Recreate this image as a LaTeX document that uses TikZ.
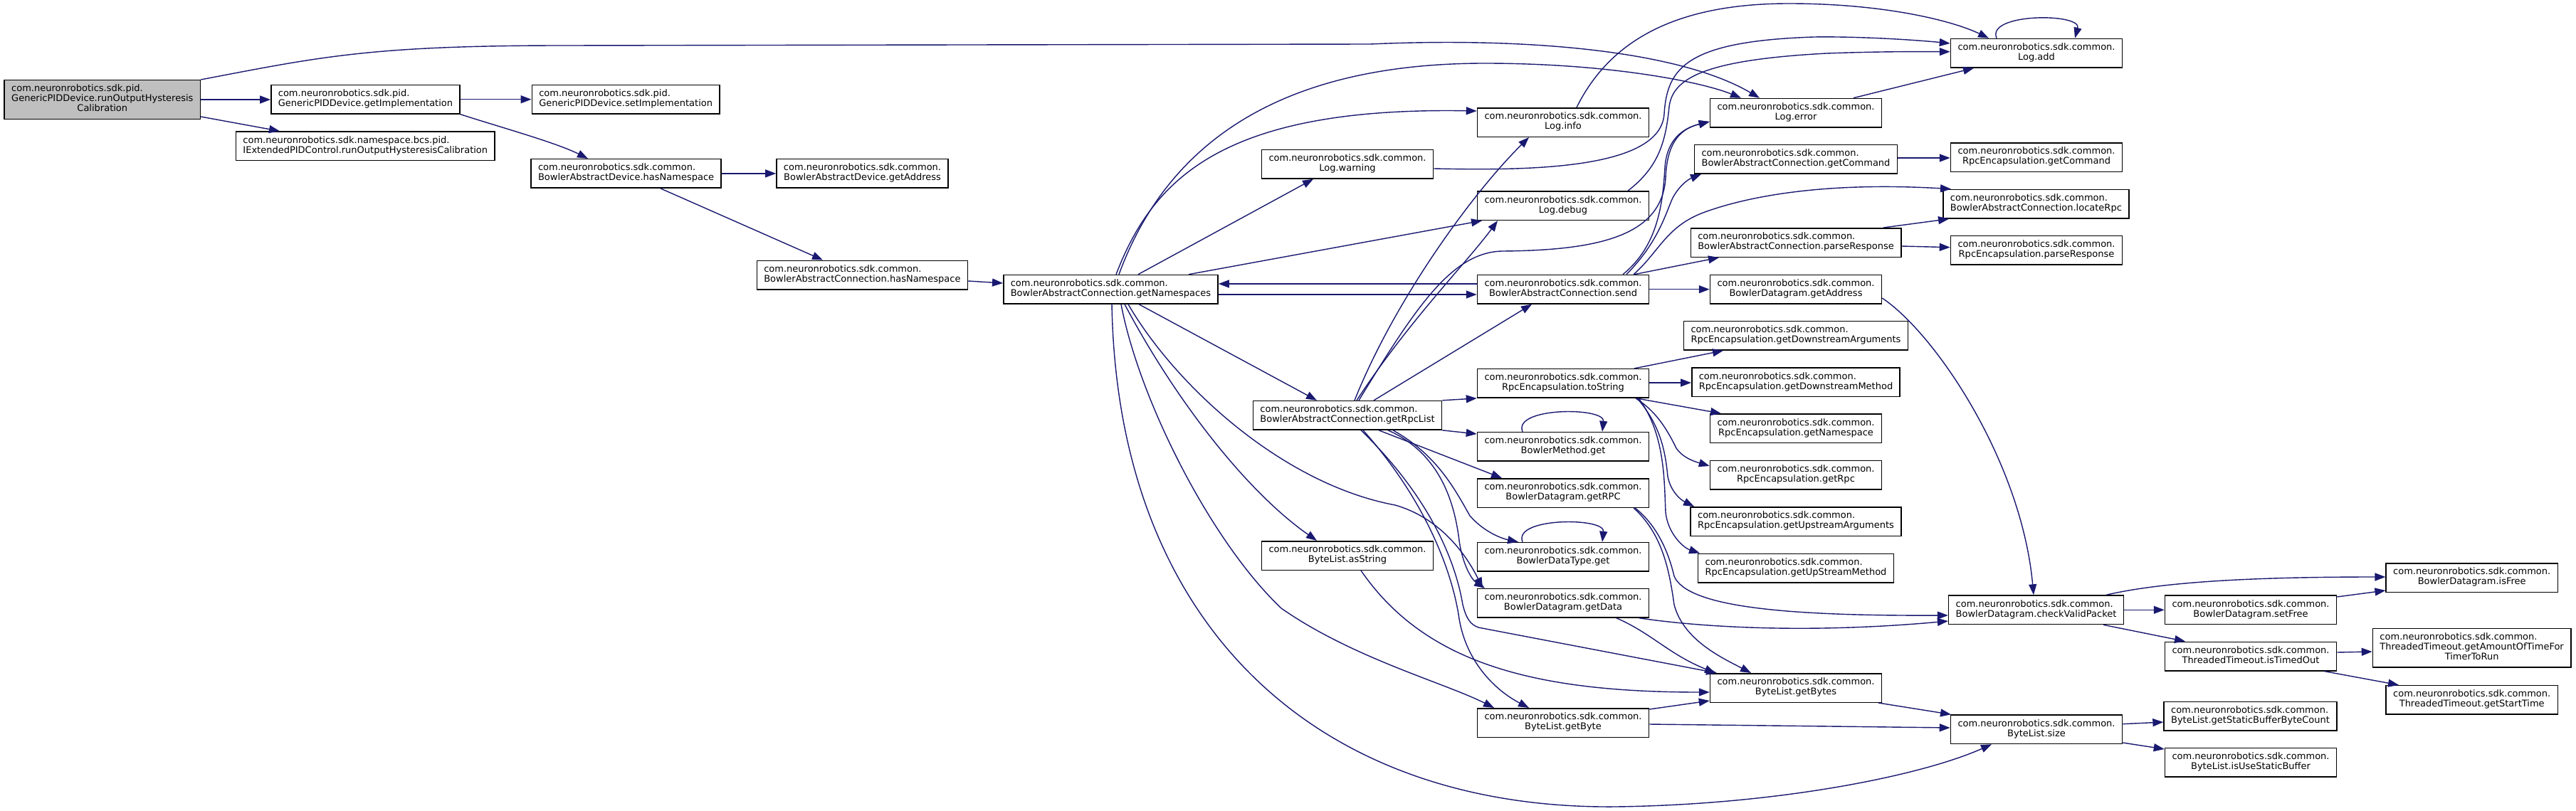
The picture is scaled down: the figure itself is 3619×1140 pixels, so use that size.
\documentclass[tikz,border=0pt]{standalone}
\usepackage{fontspec}
\setmainfont{DejaVu Sans}
\usetikzlibrary{arrows.meta,calc}
\definecolor{edgec}{RGB}{25,25,112}
\definecolor{mainfill}{RGB}{191,191,191}
\newcommand{\twoln}[2]{\begin{tabular}{@{}c@{}}\multicolumn{1}{@{}l@{}}{#1}\\#2\end{tabular}}
\newcommand{\threeln}[3]{\begin{tabular}{@{}c@{}}\multicolumn{1}{@{}l@{}}{#1}\\\multicolumn{1}{@{}l@{}}{#2}\\#3\end{tabular}}
\newcommand{\nrc}{com.neuronrobotics.sdk.common.}
\tikzset{
  fn/.style={draw=black, line width=1.5pt, fill=white, inner xsep=10pt, inner ysep=0pt,
    minimum height=40.5pt, font=\fontsize{13}{14}\selectfont, anchor=center},
  cg/.style={draw=edgec, line width=1.4pt, -{Triangle[length=15pt,width=11pt]}}
}
\begin{document}
\begin{tikzpicture}[x=1pt,y=-1pt]
\useasboundingbox (0,0) rectangle (3619,1140);
\fill[white] (0,0) rectangle (3619,1140);

% nodes
\node[fn, fill=mainfill, minimum height=54.6pt] (main) at (143.8,140) {\threeln{com.neuronrobotics.sdk.pid.}{GenericPIDDevice.runOutputHysteresis}{Calibration}};
\node[fn] (getImpl) at (513.5,139.7) {\twoln{com.neuronrobotics.sdk.pid.}{GenericPIDDevice.getImplementation}};
\node[fn] (IExt) at (513.3,205.3) {\twoln{com.neuronrobotics.sdk.namespace.bcs.pid.}{IExtendedPIDControl.runOutputHysteresisCalibration}};
\node[fn] (setImpl) at (879.2,139.7) {\twoln{com.neuronrobotics.sdk.pid.}{GenericPIDDevice.setImplementation}};
\node[fn] (BADhas) at (879.6,243.9) {\twoln{\nrc}{BowlerAbstractDevice.hasNamespace}};
\node[fn] (BADaddr) at (1211.5,243.9) {\twoln{\nrc}{BowlerAbstractDevice.getAddress}};
\node[fn] (BAChas) at (1211.4,386.5) {\twoln{\nrc}{BowlerAbstractConnection.hasNamespace}};
\node[fn] (getNS) at (1560.4,406.7) {\twoln{\nrc}{BowlerAbstractConnection.getNamespaces}};
\node[fn] (warn) at (1893,230.7) {\twoln{\nrc}{Log.warning}};
\node[fn] (rpcList) at (1893,583.8) {\twoln{\nrc}{BowlerAbstractConnection.getRpcList}};
\node[fn] (asStr) at (1893,781) {\twoln{\nrc}{ByteList.asString}};
\node[fn] (info) at (2196,172) {\twoln{\nrc}{Log.info}};
\node[fn] (debug) at (2196,289.2) {\twoln{\nrc}{Log.debug}};
\node[fn] (send) at (2196,406.7) {\twoln{\nrc}{BowlerAbstractConnection.send}};
\node[fn] (toStr) at (2196,538.9) {\twoln{\nrc}{RpcEncapsulation.toString}};
\node[fn] (bmGet) at (2196,627.8) {\twoln{\nrc}{BowlerMethod.get}};
\node[fn] (getRPC) at (2196,693) {\twoln{\nrc}{BowlerDatagram.getRPC}};
\node[fn] (bdtGet) at (2196,782.8) {\twoln{\nrc}{BowlerDataType.get}};
\node[fn] (getData) at (2196,847.8) {\twoln{\nrc}{BowlerDatagram.getData}};
\node[fn] (getByte) at (2196,1016) {\twoln{\nrc}{ByteList.getByte}};
\node[fn] (err) at (2523,158.7) {\twoln{\nrc}{Log.error}};
\node[fn] (getCmd) at (2523,223.9) {\twoln{\nrc}{BowlerAbstractConnection.getCommand}};
\node[fn] (parseResp) at (2523,341) {\twoln{\nrc}{BowlerAbstractConnection.parseResponse}};
\node[fn] (bdAddr) at (2523,406.7) {\twoln{\nrc}{BowlerDatagram.getAddress}};
\node[fn] (dsArgs) at (2523,471.8) {\twoln{\nrc}{RpcEncapsulation.getDownstreamArguments}};
\node[fn] (dsMeth) at (2523,537.2) {\twoln{\nrc}{RpcEncapsulation.getDownstreamMethod}};
\node[fn] (rNS) at (2523,602.2) {\twoln{\nrc}{RpcEncapsulation.getNamespace}};
\node[fn] (rRpc) at (2523,667.8) {\twoln{\nrc}{RpcEncapsulation.getRpc}};
\node[fn] (usArgs) at (2523,733) {\twoln{\nrc}{RpcEncapsulation.getUpstreamArguments}};
\node[fn] (usMeth) at (2523,798.5) {\twoln{\nrc}{RpcEncapsulation.getUpStreamMethod}};
\node[fn] (getBytes) at (2523,967) {\twoln{\nrc}{ByteList.getBytes}};
\node[fn] (add) at (2861,74.7) {\twoln{\nrc}{Log.add}};
\node[fn] (rCmd) at (2861,221) {\twoln{\nrc}{RpcEncapsulation.getCommand}};
\node[fn] (locRpc) at (2860.4,286.7) {\twoln{\nrc}{BowlerAbstractConnection.locateRpc}};
\node[fn] (rParse) at (2861,351.7) {\twoln{\nrc}{RpcEncapsulation.parseResponse}};
\node[fn] (cvp) at (2860.5,857.3) {\twoln{\nrc}{BowlerDatagram.checkValidPacket}};
\node[fn] (size) at (2861,1025.3) {\twoln{\nrc}{ByteList.size}};
\node[fn] (setFree) at (3162,857.3) {\twoln{\nrc}{BowlerDatagram.setFree}};
\node[fn] (timedOut) at (3162,922.5) {\twoln{\nrc}{ThreadedTimeout.isTimedOut}};
\node[fn] (sbbc) at (3161.5,1006.5) {\twoln{\nrc}{ByteList.getStaticBufferByteCount}};
\node[fn] (usb) at (3162,1071.7) {\twoln{\nrc}{ByteList.isUseStaticBuffer}};
\node[fn] (isFree) at (3472.7,812) {\twoln{\nrc}{BowlerDatagram.isFree}};
\node[fn, minimum height=54.6pt] (amount) at (3472.6,910.7) {\threeln{\nrc}{ThreadedTimeout.getAmountOfTimeFor}{TimerToRun}};
\node[fn] (startTime) at (3472.7,983.9) {\twoln{\nrc}{ThreadedTimeout.getStartTime}};

% edges
\draw[cg] (main.east |- 0,140) -- (getImpl.west |- 0,140);
\draw[cg] (main.east |- 0,164) -- (393,0 |- IExt.north);
\draw[cg] (main.north east) .. controls (450,80) and (520,64) .. (792,64) -- (1925,62) .. controls (2150,52) and (2360,72) .. (2472,0 |- err.north);
\draw[cg] (getImpl.east) -- (setImpl.west);
\draw[cg] (getImpl.south east) .. controls (700,178) and (780,200) .. (826,0 |- BADhas.north);
\draw[cg] (BADhas.east) -- (BADaddr.west);
\draw[cg] (928,0 |- BADhas.south) -- (1156,0 |- BAChas.north);
\draw[cg] (BAChas.east |- 0,395) -- (getNS.west |- 0,398);

\draw[cg] (1572,0 |- getNS.north) .. controls (1640,200) and (1800,89) .. (2086,89) .. controls (2260,89) and (2390,115) .. (2446,0 |- err.north);
\draw[cg] (1568,0 |- getNS.north) .. controls (1620,250) and (1720,150) .. (info.west |- 0,156);
\draw[cg] (1599,0 |- getNS.north) -- (1845,0 |- warn.south);
\draw[cg] (1670,0 |- getNS.north) -- (2082,0 |- debug.south);
\draw[cg] (getNS.east |- 0,414) -- (send.west |- 0,414);
\draw[cg] (send.west |- 0,399) -- (getNS.east |- 0,399);
\draw[cg] (1600,0 |- getNS.south) -- (1850,0 |- rpcList.north);
\draw[cg] (1580,0 |- getNS.south) .. controls (1650,560) and (1750,690) .. (1850,0 |- asStr.north);
\draw[cg] (1585,0 |- getNS.south) .. controls (1650,540) and (1800,680) .. (1960,710) .. controls (2030,730) and (2065,790) .. (2083,0 |- getData.north);
\draw[cg] (1575,0 |- getNS.south) .. controls (1600,560) and (1700,760) .. (1800,855) .. controls (1900,925) and (2030,960) .. (2099,0 |- getByte.north);
\draw[cg] (1562,0 |- getNS.south) .. controls (1570,880) and (1850,1138) .. (2270,1134) .. controls (2500,1131) and (2700,1090) .. (2798,0 |- size.south);

\draw[cg] (1903,0 |- rpcList.north) .. controls (1960,420) and (2070,270) .. (2148,0 |- info.south);
\draw[cg] (1906,0 |- rpcList.north) .. controls (1980,450) and (2060,370) .. (2104,0 |- debug.south);
\draw[cg] (1909,0 |- rpcList.north) .. controls (1990,430) and (2040,355) .. (2110,353) .. controls (2250,352) and (2335,330) .. (2340,250) .. controls (2342,195) and (2365,180) .. (err.west |- 0,171);
\draw[cg] (1930,0 |- rpcList.north) -- (2152,0 |- send.south);
\draw[cg] (rpcList.north east) -- (toStr.south west);
\draw[cg] (rpcList.south east) -- (bmGet.west |- 0,610);
\draw[cg] (1937,0 |- rpcList.south) -- (2110,0 |- getRPC.north);
\draw[cg] (1957,0 |- rpcList.south) .. controls (2020,640) and (2045,690) .. (2065,725) .. controls (2085,748) and (2110,757) .. (2133,0 |- bdtGet.north);
\draw[cg] (1950,0 |- rpcList.south) .. controls (2030,640) and (2045,720) .. (2050,760) .. controls (2055,795) and (2068,815) .. (2086,0 |- getData.north);
\draw[cg] (1915,0 |- rpcList.south) .. controls (2000,700) and (2040,800) .. (2050,870) .. controls (2060,930) and (2100,970) .. (2148,0 |- getByte.north);
\draw[cg] (1912,0 |- rpcList.south) .. controls (2010,700) and (2045,790) .. (2055,850) .. controls (2060,870) and (2066,878) .. (2077,882) -- (2412,0 |- getBytes.north);

\draw[cg] (2280,0 |- send.north) .. controls (2330,345) and (2336,285) .. (2339,235) .. controls (2342,195) and (2365,180) .. (err.west |- 0,171);
\draw[cg] (2285,0 |- send.north) .. controls (2330,340) and (2340,300) .. (2350,278) .. controls (2360,260) and (2372,252) .. (2390,0 |- getCmd.south);
\draw[cg] (2295,0 |- send.north) .. controls (2330,355) and (2340,320) .. (2390,300) .. controls (2450,277) and (2560,255) .. (2741,0 |- locRpc.north);
\draw[cg] (2296,0 |- send.north) -- (2415,0 |- parseResp.south);
\draw[cg] (send.east) -- (bdAddr.west);

\draw[cg] (2215,0 |- info.north) .. controls (2260,60) and (2350,5) .. (2513,5) .. controls (2650,5) and (2745,30) .. (2794,0 |- add.north);
\draw[cg] (warn.east |- 0,237) .. controls (2150,240) and (2333,238) .. (2338,160) .. controls (2342,95) and (2370,58) .. (2548,52) .. controls (2620,51) and (2700,57) .. (add.west |- 0,61);
\draw[cg] (2287,0 |- debug.north) .. controls (2330,235) and (2340,200) .. (2345,150) .. controls (2350,108) and (2400,84) .. (2566,75) .. controls (2650,72) and (2700,72.7) .. (add.west |- 0,72.7);
\draw[cg] (2604,0 |- err.north) -- (2773,0 |- add.south);
\draw[cg] (2805,0 |- add.north) .. controls (2790,18) and (2925,18) .. (2915,0 |- add.north);

\draw[cg] (getCmd.east |- 0,222) -- (rCmd.west |- 0,222);
\draw[cg] (2646,0 |- parseResp.north) -- (2738,0 |- locRpc.south);
\draw[cg] (parseResp.east |- 0,346) -- (rParse.west |- 0,347.7);
\draw[cg] (bdAddr.east |- 0,419) .. controls (2720,470) and (2840,650) .. (2857,0 |- cvp.north);

\draw[cg] (2296,0 |- toStr.north) -- (2421,0 |- dsArgs.south);
\draw[cg] (toStr.east |- 0,538) -- (dsMeth.west |- 0,538);
\draw[cg] (2299,0 |- toStr.south) -- (2418,0 |- rNS.north);
\draw[cg] (2298,0 |- toStr.south) .. controls (2330,580) and (2345,610) .. (2355,630) .. controls (2365,645) and (2385,650) .. (rRpc.west |- 0,655);
\draw[cg] (2300,0 |- toStr.south) .. controls (2335,600) and (2340,640) .. (2343,670) .. controls (2347,690) and (2360,702) .. (2380,0 |- usArgs.north);
\draw[cg] (2302,0 |- toStr.south) .. controls (2340,610) and (2338,680) .. (2340,720) .. controls (2343,750) and (2365,770) .. (2388,0 |- usMeth.north);

\draw[cg] (2139,0 |- bmGet.north) .. controls (2125,572) and (2255,572) .. (2251,0 |- bmGet.north);
\draw[cg] (2139,0 |- bdtGet.north) .. controls (2125,727) and (2255,727) .. (2251,0 |- bdtGet.north);

\draw[cg] (2297,0 |- getRPC.south) .. controls (2330,740) and (2345,780) .. (2352,810) .. controls (2370,852) and (2500,866) .. (cvp.west |- 0,865);
\draw[cg] (2295,0 |- getRPC.south) .. controls (2335,750) and (2345,800) .. (2352,850) .. controls (2365,900) and (2420,925) .. (2460,0 |- getBytes.north);
\draw[cg] (2303,0 |- getData.south) .. controls (2400,883) and (2550,890) .. (cvp.west |- 0,873);
\draw[cg] (2271,0 |- getData.south) .. controls (2320,890) and (2345,920) .. (2410,0 |- getBytes.north);
\draw[cg] (1912,0 |- asStr.south) .. controls (2000,930) and (2150,973) .. (getBytes.west |- 0,973);
\draw[cg] (getByte.east |- 0,997) -- (getBytes.west |- 0,985);
\draw[cg] (getByte.east |- 0,1018) -- (size.west |- 0,1023);
\draw[cg] (2639,0 |- getBytes.south) -- (2741,0 |- size.north);

\draw[cg] (2959,0 |- cvp.north) .. controls (3050,815) and (3200,811) .. (isFree.west |- 0,811);
\draw[cg] (cvp.east) -- (setFree.west);
\draw[cg] (2955,0 |- cvp.south) -- (3070,0 |- timedOut.north);
\draw[cg] (setFree.east |- 0,839) -- (isFree.west |- 0,830);
\draw[cg] (timedOut.east |- 0,917) -- (amount.west |- 0,916);
\draw[cg] (3265,0 |- timedOut.south) -- (3370,0 |- startTime.north);
\draw[cg] (size.east |- 0,1017.7) -- (sbbc.west |- 0,1015);
\draw[cg] (size.east |- 0,1044) -- (usb.west |- 0,1053);
\end{tikzpicture}
\end{document}
